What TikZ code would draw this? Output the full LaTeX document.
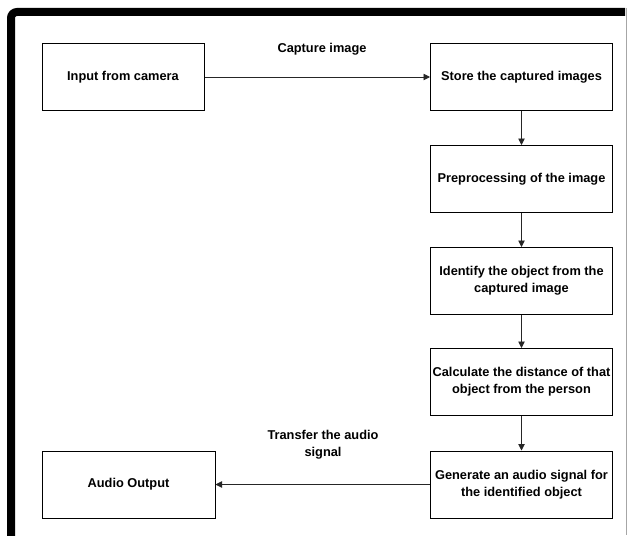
\documentclass[tikz,border=0pt]{standalone}
\usepackage{fontspec}
\setmainfont{Liberation Sans}
\usetikzlibrary{arrows.meta}
\begin{document}
\begin{tikzpicture}[x=1pt,y=-1pt,
  box/.style={draw=black,line width=1pt,minimum width=182pt,minimum height=67pt,align=center,inner sep=1pt,font=\fontsize{12.8}{16.8}\selectfont\bfseries},
  lbl/.style={align=center,font=\fontsize{12.8}{16.8}\selectfont\bfseries},
  conn/.style={line width=0.9pt,draw=black!85,-{Triangle[length=6.5pt,width=6.5pt]}}]
\useasboundingbox[fill=white] (0,0) rectangle (628,535);
% frame
\draw[line width=8pt,rounded corners=6pt] (11,540) -- (11,12) -- (625,12);
\draw[gray!70,line width=1pt] (626.5,8) -- (626.5,535);
% nodes
\node[box,minimum width=162pt] (cam) at (123,77) {Input from camera};
\node[box] (store) at (521.5,77) {Store the captured images};
\node[box] (pre) at (521.5,179) {Preprocessing of the image};
\node[box] (ident) at (521.5,281) {Identify the object from the\\captured image};
\node[box] (calc) at (521.5,382) {Calculate the distance of that\\object from the person};
\node[box] (gen) at (521.5,484.5) {Generate an audio signal for\\the identified object};
\node[box,minimum width=173pt] (out) at (128.5,484.5) {Audio Output};
% labels
\node[lbl] (l1) at (322,49) {Capture image};
\node[lbl] (l2) at (323,445) {Transfer the audio\\signal};
% connectors
\draw[conn] (cam) -- (store);
\draw[conn] (store) -- (pre);
\draw[conn] (pre) -- (ident);
\draw[conn] (ident) -- (calc);
\draw[conn] (calc) -- (gen);
\draw[conn] (gen) -- (out);
\end{tikzpicture}
\end{document}
